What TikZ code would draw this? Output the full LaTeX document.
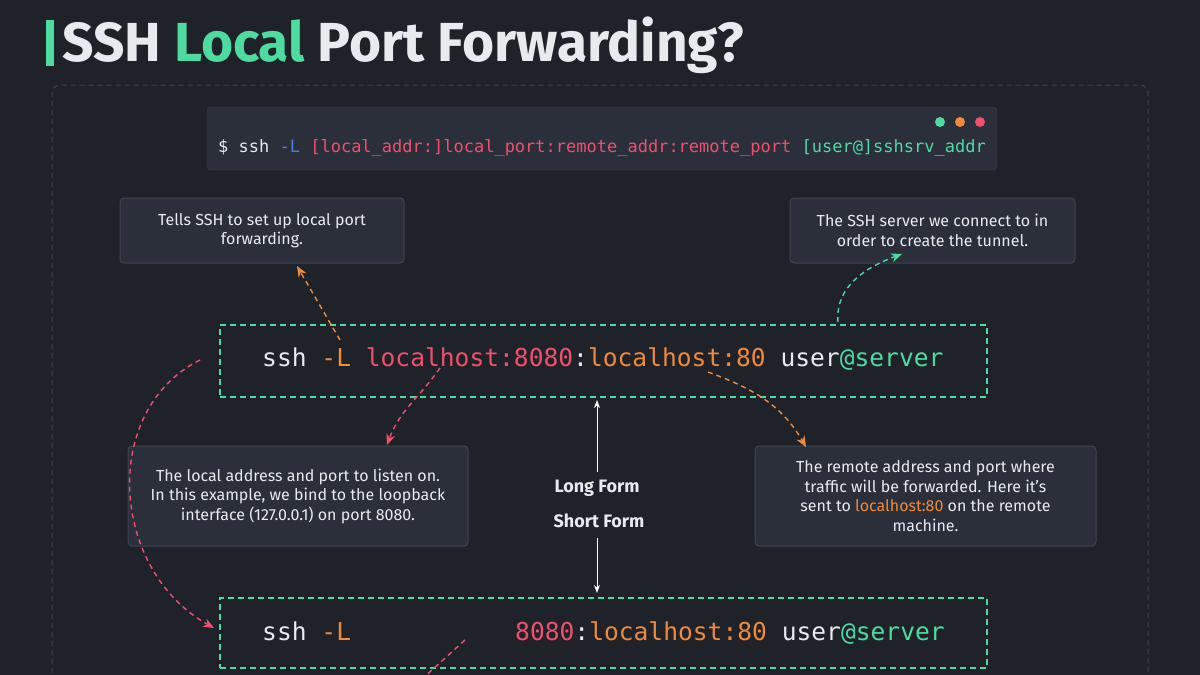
\documentclass[tikz,border=0pt]{standalone}
\usepackage{fontspec}
\setmainfont{Fira Sans}
\setmonofont{DejaVu Sans Mono}
\usetikzlibrary{positioning, arrows.meta}
\definecolor{bg}{HTML}{1F2229}
\definecolor{boxfill}{HTML}{2A2F3A}
\definecolor{boxline}{HTML}{3E4452}
\definecolor{mint}{HTML}{4DDBA0}
\definecolor{rose}{HTML}{F0506E}
\definecolor{amber}{HTML}{F08A3C}
\definecolor{azure}{HTML}{4A7CE8}
\definecolor{txt}{HTML}{E8EAEE}

\tikzset{
    note/.style={draw=boxline, fill=boxfill, rounded corners=4pt, line width=1pt,
        text=txt, align=center, font=\fontsize{16}{19.5}\selectfont, inner sep=0pt},
    form/.style={draw=mint, dash pattern=on 6pt off 4pt, line width=1.6pt, inner sep=0pt},
    pointer/.style={dash pattern=on 5pt off 4pt, line width=1.4pt, -{Stealth[length=11pt,width=9pt]}},
    code/.style={font=\ttfamily\fontsize{24.6}{24.6}\selectfont, text=txt, anchor=base west, inner sep=0pt}
}

\begin{document}
\begin{tikzpicture}[x=1pt, y=-1pt]
    \useasboundingbox (0,0) rectangle (1200,675);
    \fill[bg] (0,0) rectangle (1200,675);
    \clip (0,0) rectangle (1200,675);

    % title
    \fill[mint] (46,20) rectangle (54,66);
    \node[anchor=base west, inner sep=0pt, text=txt, font=\fontsize{55}{55}\selectfont\bfseries]
        (title) at (62,61) {SSH \textcolor{mint}{Local} Port Forwarding?};
    \draw[boxline, dash pattern=on 5pt off 4pt, line width=1pt, rounded corners=8pt]
        (52,700) -- (52,85) -- (1148,85) -- (1148,700);

    % command line
    \node[draw=boxline, fill=boxfill, rounded corners=4pt, minimum width=790pt, minimum height=63pt,
        inner sep=0pt] (cmd) at (602,138.5) {};
    \foreach \c/\x in {mint/940, amber/960, rose/980}
        \fill[\c] (\x,122) circle (5pt);
    \node[anchor=base west, inner sep=0pt, text=txt, font=\ttfamily\fontsize{17}{17}\selectfont]
        (syntax) at (218,152) {\$ ssh \textcolor{azure}{-L} \textcolor{rose}{[local\_addr:]local\_port:remote\_addr:remote\_port} \textcolor{mint}{[user@]sshsrv\_addr}};

    % notes
    \node[note, minimum width=284pt, minimum height=65pt] (flag) at (262,230.5)
        {Tells SSH to set up local port\\forwarding.};
    \node[note, minimum width=285pt, minimum height=65pt] (server) at (932.5,230.5)
        {The SSH server we connect to in\\order to create the tunnel.};
    \node[note, minimum width=340pt, minimum height=100pt] (local) at (298,496)
        {The local address and port to listen on.\\In this example, we bind to the loopback\\interface (127.0.0.1) on port 8080.};
    \node[note, minimum width=341pt, minimum height=100pt] (remote) at (925.5,496)
        {The remote address and port where\\traffic will be forwarded. Here it's\\sent to \textcolor{amber}{localhost:80} on the remote\\machine.};

    % long and short forms
    \node[form, minimum width=767pt, minimum height=72pt] (long) at (603.5,361) {};
    \node[code] (longcmd) at (262,366) {ssh \textcolor{amber}{-L} \textcolor{rose}{localhost:8080}:\textcolor{amber}{localhost:80} user\textcolor{mint}{@server}};
    \node[form, minimum width=767pt, minimum height=70pt] (short) at (603.5,633) {};
    \node[code] (shortcmd) at (262,640) {ssh \textcolor{amber}{-L}};
    \node[code] (shortarg) at (515,640) {\textcolor{rose}{8080}:\textcolor{amber}{localhost:80} user\textcolor{mint}{@server}};

    \node[text=txt, font=\fontsize{18}{18}\selectfont\bfseries] (longlbl) at (597,488) {Long Form};
    \node[text=txt, font=\fontsize{18}{18}\selectfont\bfseries] (shortlbl) at (599,521) {Short Form};
    \coordinate (uptip) at (597,400);
    \coordinate (downtip) at (597,593);
    \draw[white, line width=1pt, -{Stealth[length=8pt,width=6pt]}] (597,472) -- (uptip);
    \draw[white, line width=1pt, -{Stealth[length=8pt,width=6pt]}] (597,538) -- (downtip);

    % pointers
    \coordinate (a1) at (340,340);
    \coordinate (a2) at (838,322);
    \coordinate (a3) at (440,368);
    \coordinate (a4) at (708,372);
    \coordinate (a5) at (200,360);
    \coordinate (a6) at (465,640);
    \coordinate (a7) at (410,690);
    \draw[pointer, amber] (a1) -- (297,266);
    \draw[pointer, mint] (a2) to[out=95, in=200] (902,254);
    \draw[pointer, rose] (a3) to[out=235, in=70] (387,445);
    \draw[pointer, amber] (a4) to[out=-20, in=120] (806,447);
    \draw[pointer, rose] (a5) .. controls (100,410) and (110,570) .. (214,628);
    \draw[pointer, rose, -] (a6) -- (a7);
\end{tikzpicture}
\end{document}
